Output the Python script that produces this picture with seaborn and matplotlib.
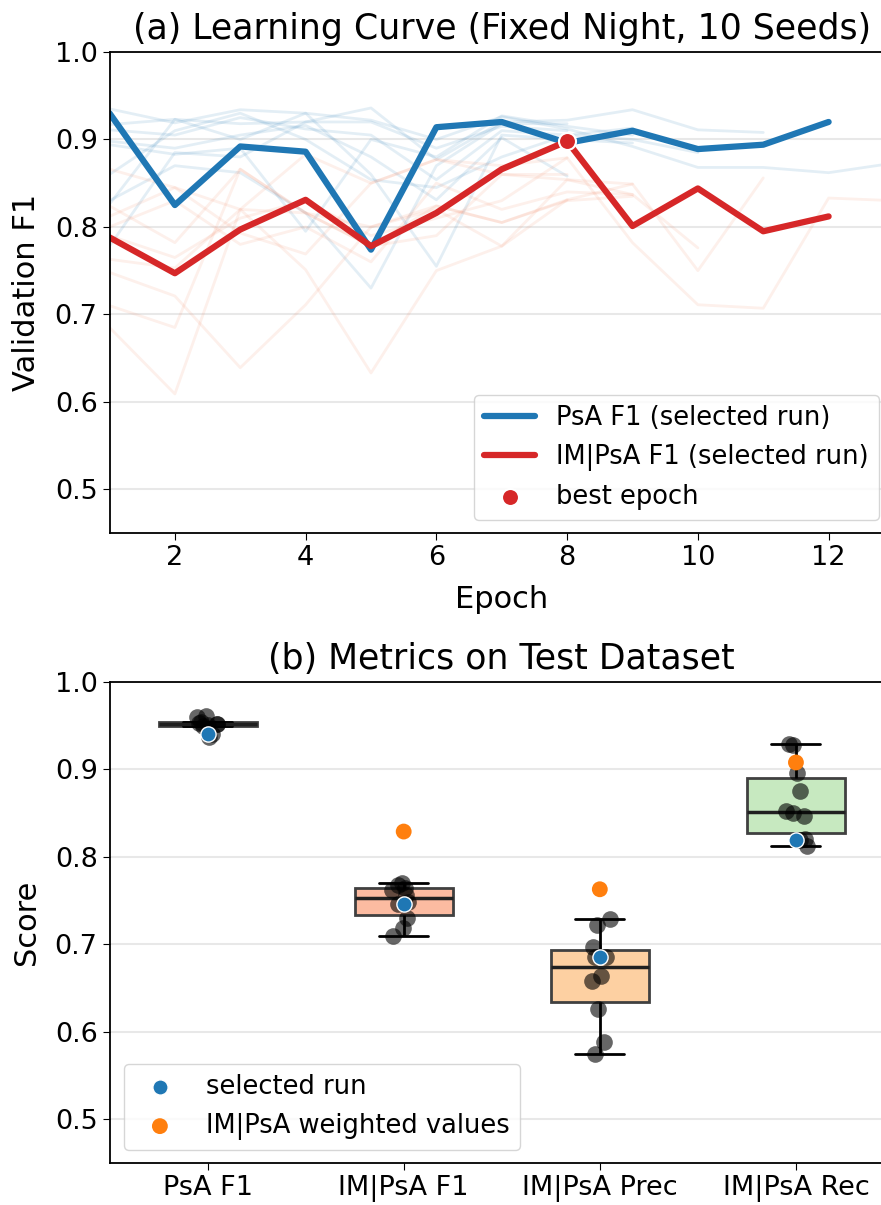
import numpy as np
import pandas as pd
import seaborn as sns
import matplotlib.pyplot as plt

# ---- panel (a): validation curves, 10 seeds ----
psa_seeds = [
    [0.935, 0.919, 0.934, 0.930, 0.922, 0.900, 0.926, 0.912, 0.892, 0.868, 0.868, 0.862, 0.873, 0.880],
    [0.917, 0.923, 0.918, 0.920, 0.936, 0.877, 0.920, 0.922, 0.934, 0.911, 0.908],
    [0.911, 0.905, 0.925, 0.912, 0.905, 0.854, 0.910, 0.905, 0.900, 0.885],
    [0.898, 0.890, 0.905, 0.916, 0.880, 0.831, 0.902, 0.858],
    [0.894, 0.883, 0.890, 0.795, 0.900, 0.880, 0.927, 0.915, 0.905],
    [0.830, 0.870, 0.862, 0.816, 0.730, 0.870, 0.918, 0.918],
    [0.826, 0.923, 0.900, 0.930, 0.860, 0.755, 0.905, 0.900, 0.896],
    [0.778, 0.885, 0.880, 0.920, 0.920, 0.890, 0.915, 0.910],
    [0.860, 0.910, 0.930, 0.900, 0.854, 0.845, 0.880, 0.905, 0.913],
]
im_seeds = [
    [0.866, 0.845, 0.820, 0.883, 0.850, 0.877, 0.870, 0.879, 0.782, 0.711, 0.707, 0.833, 0.830, 0.828],
    [0.824, 0.782, 0.866, 0.816, 0.778, 0.824, 0.805, 0.831, 0.849, 0.750, 0.856],
    [0.812, 0.845, 0.793, 0.769, 0.850, 0.877, 0.860, 0.854, 0.837, 0.776],
    [0.763, 0.753, 0.820, 0.751, 0.633, 0.750, 0.778, 0.831],
    [0.748, 0.721, 0.639, 0.711, 0.800, 0.824, 0.805, 0.830, 0.835],
    [0.710, 0.685, 0.866, 0.816, 0.778, 0.790, 0.860, 0.860],
    [0.685, 0.609, 0.820, 0.816, 0.800, 0.820, 0.778, 0.854, 0.849],
    [0.790, 0.765, 0.810, 0.830, 0.790, 0.810, 0.830, 0.879],
    [0.800, 0.830, 0.780, 0.800, 0.760, 0.850, 0.820, 0.840, 0.837],
]
psa_selected = [0.930, 0.825, 0.892, 0.886, 0.774, 0.914, 0.920, 0.896, 0.910, 0.889, 0.894, 0.920]
im_selected = [0.788, 0.747, 0.797, 0.831, 0.778, 0.816, 0.866, 0.898, 0.801, 0.844, 0.795, 0.812]
best_epoch = 8

# ---- panel (b): test metrics ----
metrics = ["PsA F1", "IM|PsA F1", "IM|PsA Prec", "IM|PsA Rec"]
psa_f1 = [0.937, 0.940, 0.950, 0.951, 0.952, 0.952, 0.953, 0.954, 0.960, 0.961]
im_f1 = [0.709, 0.719, 0.730, 0.746, 0.748, 0.757, 0.762, 0.765, 0.768, 0.770]
im_prec = [0.575, 0.588, 0.626, 0.658, 0.664, 0.685, 0.685, 0.697, 0.722, 0.729]
im_rec = [0.812, 0.819, 0.821, 0.847, 0.850, 0.852, 0.875, 0.896, 0.928, 0.929]
selected_run = [0.940, 0.746, 0.685, 0.819]
weighted_metrics = ["IM|PsA F1", "IM|PsA Prec", "IM|PsA Rec"]
weighted_values = [0.829, 0.763, 0.908]
box_colors = ["#c6dbef", "#fcbba1", "#fdd0a2", "#c7e9c0"]

sns.set_style("ticks")
plt.rcParams["font.family"] = ["DejaVu Sans"]
for k in ["text.color", "axes.labelcolor", "xtick.color", "ytick.color", "axes.edgecolor"]:
    plt.rcParams[k] = "black"
plt.rcParams["xtick.labelsize"] = 19.5
plt.rcParams["ytick.labelsize"] = 19.5
plt.rcParams["xtick.major.size"] = 5
plt.rcParams["ytick.major.size"] = 5
plt.rcParams["axes.linewidth"] = 1.3

rows = []
for i, (p, m) in enumerate(zip(psa_seeds, im_seeds)):
    for e in range(len(p)):
        rows.append({"seed": i, "epoch": e + 1, "psa": p[e], "im": m[e]})
curves = pd.DataFrame(rows)
sel = pd.DataFrame({"epoch": np.arange(1, len(psa_selected) + 1),
                    "psa": psa_selected, "im": im_selected})

fig = plt.figure(figsize=(8.81, 12.05), dpi=100)
ax1 = fig.add_axes([109.5 / 881, 1 - 533 / 1205, 784.5 / 881, 481 / 1205])
ax2 = fig.add_axes([109.5 / 881, 1 - 1163 / 1205, 784.5 / 881, 481 / 1205])

ax1.yaxis.grid(True, color="#e8e8e8", linewidth=1.5)
ax1.set_axisbelow(True)
sns.lineplot(data=curves, x="epoch", y="psa", units="seed", estimator=None,
             color="tab:blue", alpha=0.12, linewidth=2, ax=ax1)
sns.lineplot(data=curves, x="epoch", y="im", units="seed", estimator=None,
             color="#f4845f", alpha=0.12, linewidth=2, ax=ax1)
sns.lineplot(data=sel, x="epoch", y="psa", color="tab:blue", linewidth=4.5,
             label="PsA F1 (selected run)", ax=ax1)
sns.lineplot(data=sel, x="epoch", y="im", color="tab:red", linewidth=4.5,
             label="IM|PsA F1 (selected run)", ax=ax1)
sns.scatterplot(x=[best_epoch], y=[im_selected[best_epoch - 1]], color="tab:red",
                s=150, edgecolor="white", linewidth=1.5, zorder=5,
                label="best epoch", ax=ax1)
ax1.set_xlim(1, 13)
ax1.set_ylim(0.45, 1.0)
ax1.set_yticks([0.5, 0.6, 0.7, 0.8, 0.9, 1.0])
ax1.set_xticks([2, 4, 6, 8, 10, 12])
ax1.set_xlabel("Epoch", fontsize=22, labelpad=10)
ax1.set_ylabel("Validation F1", fontsize=22, labelpad=10)
ax1.set_title("(a) Learning Curve (Fixed Night, 10 Seeds)", fontsize=25, pad=9)
ax1.legend(loc="lower right", fontsize=18.5, bbox_to_anchor=(0.997, 0.0))

# bottom panel
test = pd.DataFrame({
    "metric": np.repeat(metrics, 10),
    "value": psa_f1 + im_f1 + im_prec + im_rec,
})
ax2.yaxis.grid(True, color="#e8e8e8", linewidth=1.5)
ax2.set_axisbelow(True)
sns.boxplot(data=test, x="metric", y="value", hue="metric", palette=box_colors,
            saturation=1, width=0.5, showfliers=False, linewidth=2, linecolor="#404040",
            legend=False, ax=ax2,
            whiskerprops=dict(color="black"), capprops=dict(color="black"),
            medianprops=dict(color="#202020", linewidth=2.5))
np.random.seed(3)
sns.stripplot(data=test, x="metric", y="value", color="black", alpha=0.6,
              size=12, jitter=0.06, ax=ax2, zorder=3)
sns.scatterplot(x=np.arange(len(metrics)), y=selected_run, color="tab:blue", s=120,
                edgecolor="white", linewidth=1, zorder=5, label="selected run", ax=ax2)
sns.scatterplot(x=[metrics.index(m) for m in weighted_metrics], y=weighted_values,
                color="tab:orange", s=130, edgecolor="none", zorder=5,
                label="IM|PsA weighted values", ax=ax2)
ax2.set_xlim(-0.5, 3.5)
ax2.set_ylim(0.45, 1.0)
ax2.set_yticks([0.5, 0.6, 0.7, 0.8, 0.9, 1.0])
ax2.set_xlabel("")
ax2.set_ylabel("Score", fontsize=22, labelpad=10)
ax2.set_title("(b) Metrics on Test Dataset", fontsize=25, pad=9)
ax2.legend(loc="lower left", fontsize=18.5, bbox_to_anchor=(0.002, 0.0))

fig.savefig("out.png", dpi=100)
